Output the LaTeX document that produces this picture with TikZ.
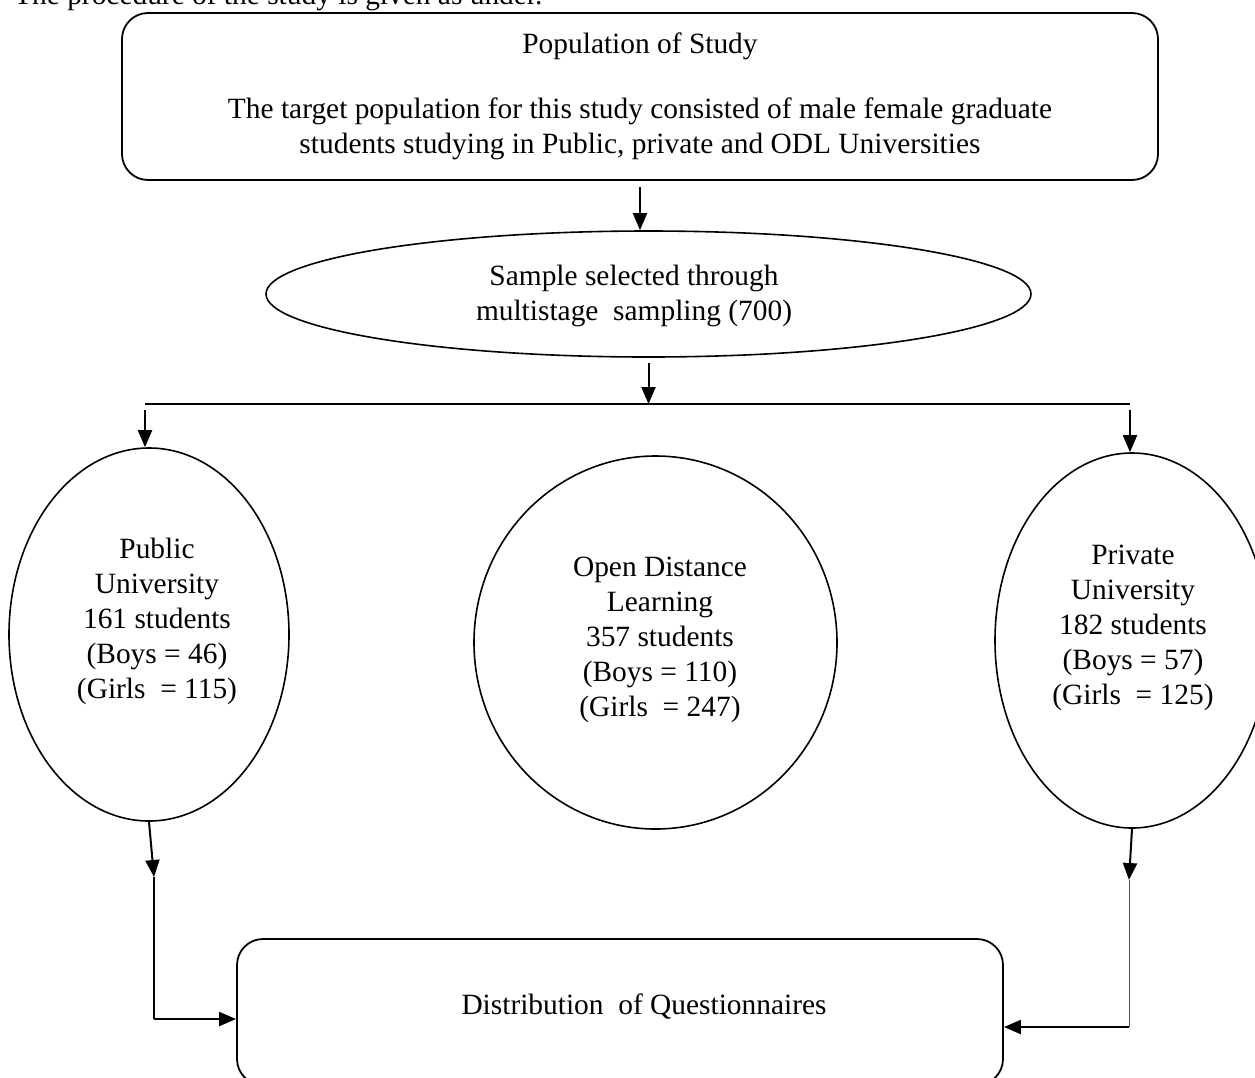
\documentclass[tikz,border=0pt]{standalone}
\usepackage{fontspec}
\setmainfont{Liberation Serif}
\usetikzlibrary{arrows.meta,shapes.geometric}

\tikzset{
	rbox/.style={draw,line width=1.8pt,rounded corners=26pt,inner sep=0pt},
	oval/.style={draw,ellipse,line width=1.6pt,inner sep=0pt},
	txt/.style={align=center,inner sep=0pt},
	arr/.style={-{Triangle[length=17pt,width=14pt]},line width=2pt},
}

\begin{document}
\begin{tikzpicture}[x=1pt,y=-1pt,font=\fontsize{29.4}{35}\selectfont]
		\useasboundingbox (0,0) rectangle (1255,1077);
		\node[anchor=base west,inner sep=0pt] (intro) at (14,4) {The procedure of the study is given as under.};

		\node[rbox,minimum width=1036pt,minimum height=167pt,align=center] (popn) at (640,96.5)
			{Population of Study\\[30pt]The target population for this study consisted of male female graduate\\students studying in Public, private and ODL Universities};
		\node[oval,minimum width=765pt,minimum height=126pt] (sample) at (648.5,294) {};
		\node[txt] (sampletxt) at (634,296) {Sample selected through\\multistage~ sampling (700)};

		\coordinate (splitL) at (145,404);
		\coordinate (splitR) at (1130,404);
		\draw[line width=1.6pt] (splitL) -- (splitR);
		\draw[arr] ([yshift=-6pt]popn.south) -- (popn.south |- sample.north);
		\draw[arr] ([yshift=-5pt]sample.south) -- (sample.south |- splitL);

		\node[oval,minimum width=280pt,minimum height=373pt] (pub) at (149,634.5) {};
		\node[oval,minimum width=363pt,minimum height=373pt] (odl) at (655.5,642.5) {};
		\node[oval,minimum width=274pt,minimum height=375pt] (pvt) at (1132,640.5) {};
		\node[txt] (pubtxt) at (157,621) {Public\\University\\161 students\\(Boys = 46)\\(Girls~ = 115)};
		\node[txt] (odltxt) at (660,640) {Open Distance\\Learning\\357 students\\(Boys = 110)\\(Girls~ = 247)};
		\node[txt] (pvttxt) at (1133,628) {Private\\University\\182 students\\(Boys = 57)\\(Girls~ = 125)};
		\draw[arr] ([yshift=-6pt]splitL) -- (splitL |- pub.north);
		\draw[arr] ([yshift=-6pt]splitR) -- (splitR |- pvt.north);

		\node[rbox,minimum width=766pt,minimum height=146pt] (quest) at (620,1012) {};
		\node[txt] (questtxt) at (644,1007) {Distribution~ of Questionnaires};

		\coordinate (lknee) at (154,877);
		\coordinate (lfoot) at (154,1019);
		\coordinate (rknee) at (1129,880);
		\coordinate (rfoot) at (1129,1027);
		\draw[arr] (pub.south) -- (lknee);
		\draw[line width=1.6pt] (lknee) -- (lfoot);
		\draw[arr] (lfoot) -- (quest.west |- lfoot);
		\draw[arr] (pvt.south) -- (rknee);
		\draw[line width=1pt,black!70] (rknee) -- (rfoot);
		\draw[arr] (rfoot) -- (quest.east |- rfoot);
\end{tikzpicture}
\end{document}
